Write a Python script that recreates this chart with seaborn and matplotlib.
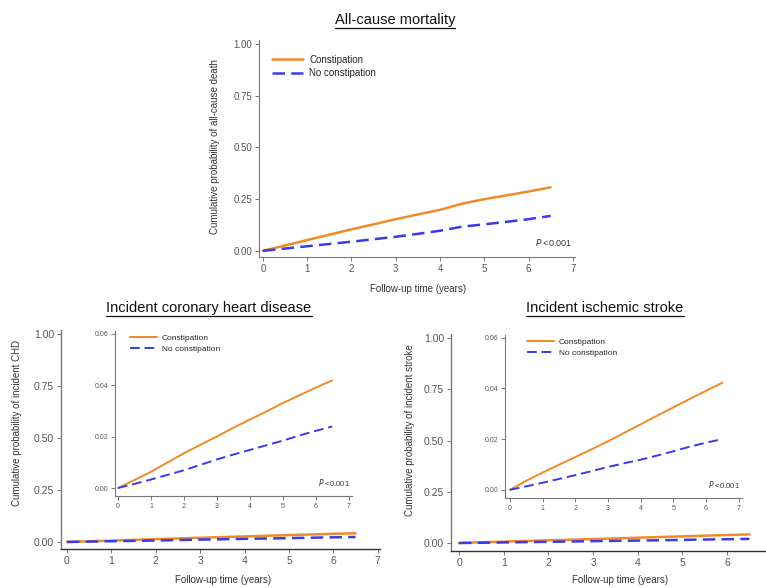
import numpy as np
import pandas as pd
import matplotlib
matplotlib.use('Agg')
import matplotlib.pyplot as plt
import seaborn as sns
from matplotlib.lines import Line2D

# --- data (years, cumulative probability) ---
years = [0, 0.5, 1, 1.5, 2, 2.5, 3, 3.5, 4, 4.5, 5, 5.5, 6, 6.5]
death_con = [0.0, 0.026, 0.052, 0.078, 0.104, 0.128, 0.153, 0.176, 0.198,
             0.228, 0.250, 0.268, 0.287, 0.307]
death_nocon = [0.0, 0.011, 0.022, 0.033, 0.044, 0.056, 0.068, 0.082, 0.097,
               0.117, 0.128, 0.140, 0.153, 0.169]

chd_con = [0.0, 0.0031, 0.0063, 0.0099, 0.0135, 0.0168, 0.0200, 0.0234, 0.0266,
           0.0297, 0.0330, 0.0360, 0.0390, 0.0418]
chd_nocon = [0.0, 0.0016, 0.0033, 0.0051, 0.0069, 0.0090, 0.0111, 0.0130, 0.0148,
             0.0166, 0.0184, 0.0204, 0.0222, 0.0239]

stroke_con = [0.0, 0.0036, 0.0068, 0.0099, 0.0129, 0.0160, 0.0191, 0.0225, 0.0258,
              0.0292, 0.0325, 0.0358, 0.0390, 0.0422]
stroke_nocon = [0.0, 0.0014, 0.0028, 0.0043, 0.0058, 0.0074, 0.0090, 0.0105, 0.0119,
                0.0135, 0.0152, 0.0170, 0.0186, 0.0200]

groups = ['Constipation', 'No constipation']
titles = ['All-cause mortality', 'Incident coronary heart disease', 'Incident ischemic stroke']
ylabels = ['Cumulative probability of all-cause death',
           'Cumulative probability of incident CHD',
           'Cumulative probability of incident stroke']
main_yticks = [0.0, 0.25, 0.5, 0.75, 1.0]
inset_yticks = [0.0, 0.02, 0.04, 0.06]
xticks = [0, 1, 2, 3, 4, 5, 6, 7]

ORANGE = '#ef8a2a'
BLUE = '#3a3ae6'
GREY = '#555555'


def make_df(con, nocon):
    return pd.DataFrame({
        'time': years + years,
        'prob': con + nocon,
        'group': [groups[0]] * len(years) + [groups[1]] * len(years),
    })


sns.set_theme(style='white')
plt.rcParams['font.family'] = ['Liberation Sans', 'DejaVu Sans']

W, H = 766, 588
fig = plt.figure(figsize=(W / 100, H / 100), dpi=100)


def px_axes(left, top, right, bottom):
    return fig.add_axes([left / W, 1 - bottom / H, (right - left) / W, (bottom - top) / H])


def style_ax(ax, xlim, ylim, yticks, yfmt, fs, lw_spine=0.8):
    ax.set_xlim(*xlim)
    ax.set_ylim(*ylim)
    ax.set_xticks([t for t in xticks if xlim[0] <= t <= xlim[1]])
    ax.set_yticks(yticks)
    ax.set_yticklabels([yfmt.format(v) for v in yticks])
    for s in ['top', 'right']:
        ax.spines[s].set_visible(False)
    for s in ['left', 'bottom']:
        ax.spines[s].set_color('#777777')
        ax.spines[s].set_linewidth(lw_spine)
    ax.tick_params(axis='both', direction='out', length=3, width=0.7,
                   color='#777777', labelsize=fs, labelcolor=GREY, pad=2,
                   left=True, bottom=True)
    ax.set_xlabel('')
    ax.set_ylabel('')
    ax.set_facecolor('none')


def draw_lines(ax, df, lw, legend, legend_fs, legend_loc):
    sns.lineplot(data=df, x='time', y='prob', hue='group', style='group',
                 palette={groups[0]: ORANGE, groups[1]: BLUE},
                 dashes={groups[0]: '', groups[1]: (5, 2.5)},
                 linewidth=lw, ax=ax, legend=legend)
    if legend:
        handles = [Line2D([], [], color=ORANGE, lw=lw),
                   Line2D([], [], color=BLUE, lw=lw, dashes=(5, 2.5))]
        ax.legend(handles, groups, loc='upper left', bbox_to_anchor=legend_loc,
                  frameon=False, fontsize=legend_fs, handlelength=3.2,
                  handletextpad=0.6, labelspacing=0.35, borderaxespad=0)


def p_text(ax, x, y, fs):
    ax.text(x, y, r'$P$ <0.001', transform=ax.transAxes, ha='right', va='bottom',
            fontsize=fs, color='#333333')


# --- top panel: all-cause mortality ---
ax1 = px_axes(259, 40, 575, 257)
draw_lines(ax1, make_df(death_con, death_nocon), 1.8, True, 7, (0.03, 0.95))
style_ax(ax1, (-0.09, 7.05), (-0.03, 1.02), main_yticks, '{:.2f}', 7)
p_text(ax1, 0.99, 0.04, 6.5)

# --- bottom left: CHD ---
ax2 = px_axes(61, 330, 380, 549)
draw_lines(ax2, make_df(chd_con, chd_nocon), 1.8, False, 7, None)
style_ax(ax2, (-0.135, 7.05), (-0.034, 1.02), main_yticks, '{:.2f}', 7.5, lw_spine=1.0)
ax2.spines['bottom'].set_color('#333333')

ax2i = px_axes(115, 331, 352, 496)
draw_lines(ax2i, make_df(chd_con, chd_nocon), 1.4, True, 6, (0.05, 1.0))
style_ax(ax2i, (-0.09, 7.1), (-0.0031, 0.061), inset_yticks, '{:.2f}', 5)
p_text(ax2i, 0.99, 0.05, 5.5)

# --- bottom right: stroke ---
ax3 = px_axes(451, 334, 766, 551)
draw_lines(ax3, make_df(stroke_con, stroke_nocon), 1.8, False, 7, None)
style_ax(ax3, (-0.18, 6.87), (-0.039, 1.02), main_yticks, '{:.2f}', 7.5, lw_spine=1.0)
ax3.spines['bottom'].set_color('#333333')

ax3i = px_axes(505, 335, 742, 498)
draw_lines(ax3i, make_df(stroke_con, stroke_nocon), 1.4, True, 6, (0.08, 1.0))
style_ax(ax3i, (-0.15, 7.1), (-0.0032, 0.061), inset_yticks, '{:.2f}', 5)
p_text(ax3i, 0.99, 0.05, 5.5)

# --- titles (underlined), axis labels ---
title_pos = [(395, 20), (209, 308), (605, 308)]
title_objs = []
for (tx, ty), t in zip(title_pos, titles):
    title_objs.append(fig.text(tx / W, 1 - ty / H, t, ha='center', va='center',
                               fontsize=10.5, color='#111111'))

ylab_pos = [(215, 147), (17, 423), (410, 430)]
for (lx, ly), t in zip(ylab_pos, ylabels):
    fig.text(lx / W, 1 - ly / H, t, ha='center', va='center', rotation=90,
             fontsize=7, color='#333333')

xlab_pos = [(418, 289), (223, 580), (620, 580)]
for (lx, ly) in xlab_pos:
    fig.text(lx / W, 1 - ly / H, 'Follow-up time (years)', ha='center', va='center',
             fontsize=7, color='#333333')

fig.canvas.draw()
renderer = fig.canvas.get_renderer()
for t in title_objs:
    bb = t.get_window_extent(renderer)
    yline = bb.y0 - 1
    fig.add_artist(Line2D([bb.x0 / W, bb.x1 / W], [yline / H, yline / H],
                          color='#111111', lw=0.9))

fig.savefig('out.png', dpi=100)
